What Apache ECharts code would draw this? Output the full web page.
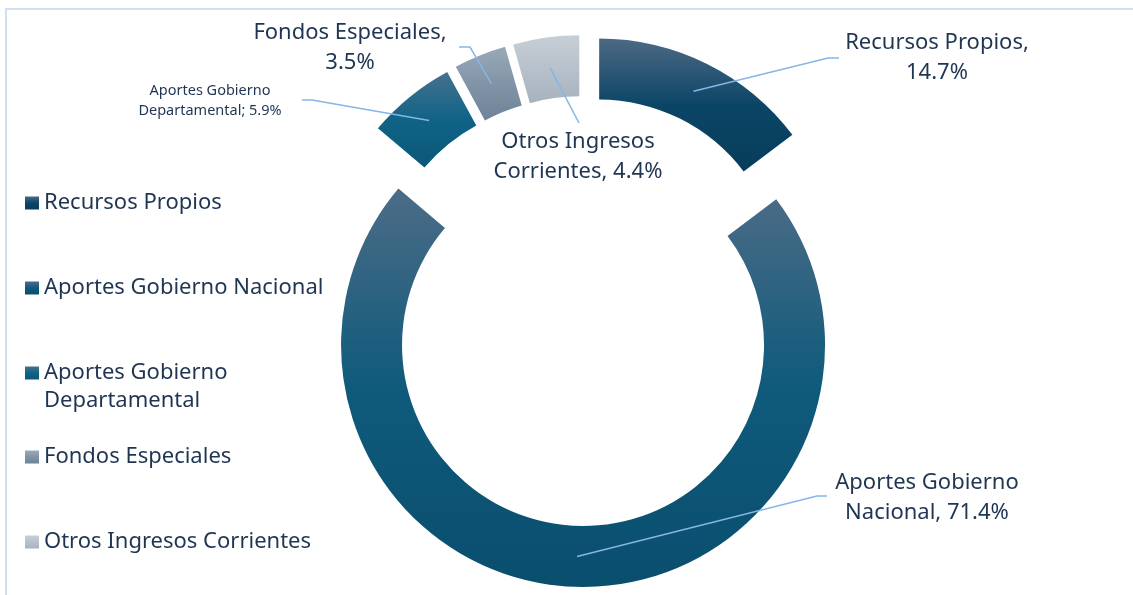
<!DOCTYPE html>
<html>
<head>
<meta charset="utf-8">
<script src="https://cdn.jsdelivr.net/npm/echarts@6/dist/echarts.min.js"></script>
<style>
  html, body { margin: 0; padding: 0; background: #fff; }
  #chart { width: 1133px; height: 595px; }
</style>
</head>
<body>
<div id="chart"></div>
<script>
// data
const categories = ['Recursos Propios', 'Aportes Gobierno Nacional', 'Aportes Gobierno Departamental', 'Fondos Especiales', 'Otros Ingresos Corrientes'];
const shares = [14.7, 71.4, 5.9, 3.5, 4.4];
// label text as printed on the chart (value is appended)
const labelTexts = ['Recursos Propios,\n', 'Aportes Gobierno\nNacional, ', 'Aportes Gobierno\nDepartamental; ', 'Fondos Especiales,\n', 'Otros Ingresos\nCorrientes, '];

// layout
const CX = 584, CY = 311, R_IN = 181, R_OUT = 242, EXPLODE = 34;
const TEXT = '#1f3552';
const FONT = 'Noto Sans';
const LEADER = '#86b5e6';
const labelPos = [[937, 58], [927, 498], [210, 101], [350, 48], [578, 157]];
const leaderTail = [[[828, 58], [839, 58]], [[817, 496], [827, 496]], [[312, 100], [302, 100]], [[470, 47], [459, 47]], [[579, 123]]];
const labelSize = [22, 22, 14.5, 22, 22];
const labelLH = [30, 30, 20, 30, 30];
const legendTops = [188, 273, 358, 442, 527];
const gradients = [
  ['#4d6984', '#0b4566', '#063d5a'],
  ['#4c6c87', '#0f5a7b', '#0a4e6e'],
  ['#46718e', '#106387', '#0b5777'],
  ['#99a9b9', '#8294a7', '#6e8399'],
  ['#c7ced6', '#b7c1cb', '#a6b2be']
];

function grad(c) {
  return new echarts.graphic.LinearGradient(0, 0, 0, 1, [
    { offset: 0, color: c[0] }, { offset: 0.5, color: c[1] }, { offset: 1, color: c[2] }
  ]);
}

const total = shares.reduce((a, b) => a + b, 0);
const leaders = [];
let cum = 0;
const series = shares.map((v, i) => {
  const frac = v / total;
  const mid = (cum + frac / 2) * 2 * Math.PI;
  const start = 90 - cum * 360;
  cum += frac;
  // each slice is pushed out along its own bisector
  const cx = CX + EXPLODE * Math.sin(mid);
  const cy = CY - EXPLODE * Math.cos(mid);
  const rMid = (R_IN + R_OUT) / 2;
  const anchor = [cx + rMid * Math.sin(mid), cy - rMid * Math.cos(mid)];
  leaders.push([anchor].concat(leaderTail[i]));
  return {
    type: 'pie',
    name: categories[i],
    center: [cx, cy],
    radius: [R_IN, R_OUT],
    startAngle: start,
    endAngle: start - frac * 360,
    clockwise: true,
    avoidLabelOverlap: false,
    animation: false,
    emphasis: { disabled: true },
    itemStyle: { color: grad(gradients[i]) },
    label: {
      show: true,
      position: 'outside',
      formatter: labelTexts[i] + v.toFixed(1) + '%',
      fontSize: labelSize[i],
      lineHeight: labelLH[i],
      fontFamily: FONT,
      color: TEXT,
      align: 'center'
    },
    labelLine: { show: false },
    labelLayout: function () {
      return { x: labelPos[i][0], y: labelPos[i][1], align: 'center', verticalAlign: 'middle' };
    },
    data: [{ name: categories[i], value: v }]
  };
});

const legend = categories.map((c, i) => ({
  data: [c],
  left: 25,
  top: legendTops[i],
  padding: 0,
  orient: 'vertical',
  icon: 'rect',
  itemWidth: 14,
  itemHeight: 13,
  selectedMode: false,
  formatter: i === 2 ? 'Aportes Gobierno' : '{name}',
  textStyle: { fontSize: 22, lineHeight: 30, color: TEXT, fontFamily: FONT }
}));

// leader lines sit on top of the slices, as in the original
const leaderLines = leaders.map(pts => ({
  type: 'polyline', z: 100, silent: true,
  shape: { points: pts },
  style: { stroke: LEADER, lineWidth: 1.5, fill: 'none' }
}));

const chart = echarts.init(document.getElementById('chart'));
chart.setOption({
  backgroundColor: '#fff',
  animation: false,
  legend: legend,
  graphic: [
    { type: 'rect', shape: { x: 6, y: 9, width: 1300, height: 800 }, style: { fill: 'none', stroke: '#cfe0f3', lineWidth: 2 }, silent: true },
    { type: 'text', x: 44, y: 401, style: { text: 'Departamental', fontSize: 22, fontFamily: FONT, fill: TEXT, verticalAlign: 'middle' }, silent: true }
  ].concat(leaderLines),
  series: series
});
</script>
</body>
</html>
